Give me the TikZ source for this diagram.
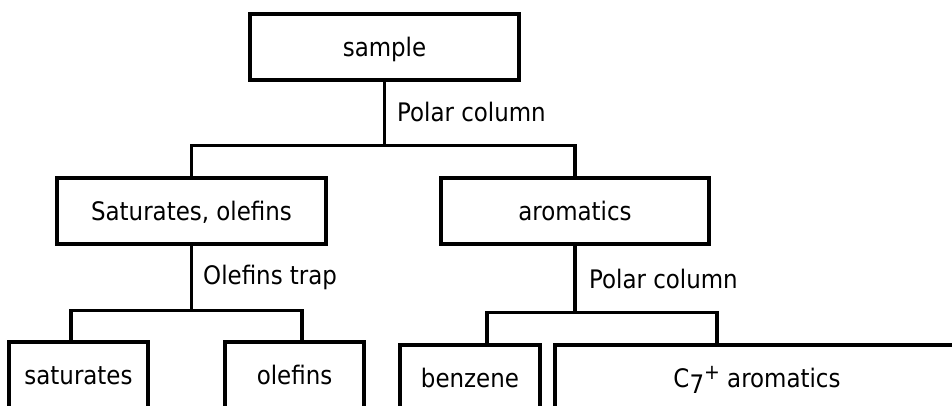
\documentclass[tikz,border=0pt]{standalone}
\usepackage{fontspec}
\setmainfont{DejaVu Sans Condensed}
\begin{document}
\begin{tikzpicture}[x=1pt,y=-1pt,
  box/.style={draw,line width=3.1pt,rectangle,inner sep=0pt,minimum height=66pt,
    text height=19pt,text depth=0pt,font=\fontsize{25.5}{30}\selectfont},
  lbl/.style={inner sep=0pt,anchor=base west,font=\fontsize{25.5}{30}\selectfont},
  conn/.style={line width=3.1pt}]
\useasboundingbox (0,0) rectangle (952,406);
\clip (0,0) rectangle (952,406);
\fill[white] (0,0) rectangle (952,406);
% boxes
\node[box,minimum width=269pt] (sample) at (384.5,47) {sample};
\node[box,minimum width=269pt] (satole) at (191.5,211) {Saturates, olefins};
\node[box,minimum width=268pt] (arom) at (575,211) {aromatics};
\node[box,minimum width=139pt] (sat) at (78.5,375) {saturates};
\node[box,minimum width=139pt] (ole) at (294.5,375) {olefins};
\node[box,minimum width=140pt] (benz) at (470,378) {benzene};
\node[box,minimum width=404pt] (c7) at (757,378) {C\raisebox{-0.25em}{7}\raisebox{0.3em}{\fontsize{21}{21}\selectfont +} aromatics};
% junctions
\coordinate (j1) at ([yshift=-64]sample.south);
\coordinate (j2) at ([yshift=-65]satole.south);
\coordinate (j3) at ([yshift=-67]arom.south);
% connectors
\draw[conn] (sample.south) -- (j1);
\draw[conn] (satole.north) |- (j1) -| (arom.north);
\draw[conn] (satole.south) -- (j2);
\draw[conn] ([xshift=-7.5]sat.north) |- (j2) -| ([xshift=7.5]ole.north);
\draw[conn] (arom.south) -- (j3);
\draw[conn] ([xshift=17]benz.north) |- (j3) -| ([xshift=-40]c7.north);
% labels
\node[lbl] (l1) at (397,122) {Polar column};
\node[lbl] (l2) at (203,284.5) {Olefins trap};
\node[lbl] (l3) at (589,288) {Polar column};
\end{tikzpicture}
\end{document}
